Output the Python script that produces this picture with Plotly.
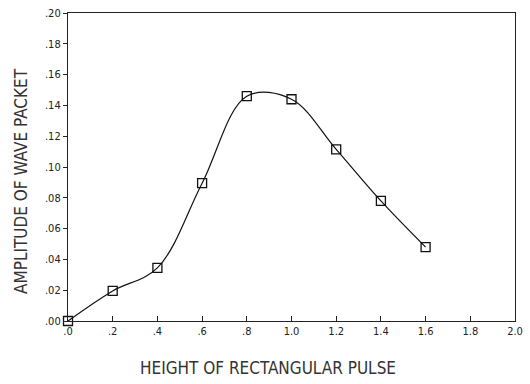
import plotly.graph_objects as go

pulse_height = [0.0, 0.2, 0.4, 0.6, 0.8, 1.0, 1.2, 1.4, 1.6]
amplitude = [0.0, 0.0195, 0.0345, 0.0895, 0.146, 0.144, 0.1115, 0.078, 0.048]

x_tickvals = [0.0, 0.2, 0.4, 0.6, 0.8, 1.0, 1.2, 1.4, 1.6, 1.8, 2.0]
x_ticktext = [".0", ".2", ".4", ".6", ".8", "1.0", "1.2", "1.4", "1.6", "1.8", "2.0"]
y_tickvals = [0.0, 0.02, 0.04, 0.06, 0.08, 0.10, 0.12, 0.14, 0.16, 0.18, 0.20]
y_ticktext = [".00", ".02", ".04", ".06", ".08", ".10", ".12", ".14", ".16", ".18", ".20"]

x_title = "HEIGHT OF RECTANGULAR PULSE"
y_title = "AMPLITUDE OF WAVE PACKET"

font_family = "DejaVu Sans Condensed, DejaVu Sans, sans-serif"

fig = go.Figure()
fig.add_trace(go.Scatter(
    x=pulse_height, y=amplitude,
    mode="lines+markers",
    line=dict(color="#111111", width=1.2, shape="spline", smoothing=1.0),
    marker=dict(symbol="square-open", size=9, color="#111111", line=dict(width=1.3)),
    showlegend=False,
    cliponaxis=False,
))

fig.update_layout(
    width=530, height=384,
    margin=dict(l=68, r=7, t=10, b=63),
    paper_bgcolor="white", plot_bgcolor="white",
    font=dict(family=font_family, color="#222222"),
    xaxis=dict(
        range=[0, 2.0], tickvals=x_tickvals, ticktext=x_ticktext,
        showgrid=False, zeroline=False,
        showline=True, linecolor="#222222", linewidth=1.2, mirror=True,
        ticks="inside", ticklen=5, tickcolor="#222222",
        tickfont=dict(size=11, family=font_family),
    ),
    yaxis=dict(
        range=[0, 0.20], tickvals=y_tickvals, ticktext=y_ticktext,
        showgrid=False, zeroline=False,
        showline=True, linecolor="#222222", linewidth=1.2, mirror=True,
        ticks="outside", ticklen=4, tickcolor="#222222",
        tickfont=dict(size=11, family=font_family),
    ),
    annotations=[
        dict(text=x_title, xref="paper", yref="paper", x=0.448, y=-0.154,
             xanchor="center", yanchor="middle", showarrow=False,
             font=dict(size=17, family=font_family, color="#333333")),
        dict(text=y_title, xref="paper", yref="paper", x=-0.105, y=0.455,
             xanchor="center", yanchor="middle", showarrow=False, textangle=-90,
             font=dict(size=17, family=font_family, color="#333333")),
    ],
)

fig.write_html("out.html")
